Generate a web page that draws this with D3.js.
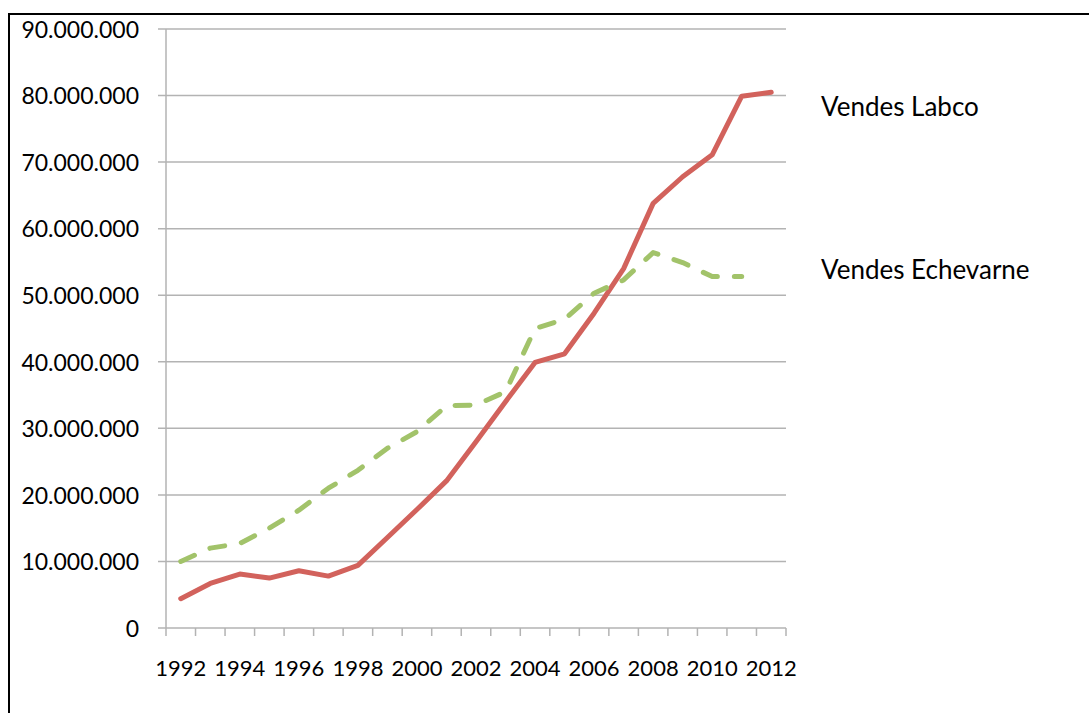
<!DOCTYPE html>
<html>
<head>
<meta charset="utf-8">
<script src="https://cdn.jsdelivr.net/npm/d3@7"></script>
<style>
  body { margin: 0; background: #fff; }
  svg text { font-family: Lato, "Open Sans", sans-serif; fill: #000; }
</style>
</head>
<body>
<svg id="chart" width="1089" height="713"></svg>
<script>
// Años (categorías del eje X)
const anys = d3.range(1992, 2013);
// Etiquetas del eje X (una de cada dos)
const etiquetasX = [1992, 1994, 1996, 1998, 2000, 2002, 2004, 2006, 2008, 2010, 2012];
// Etiquetas del eje Y
const ticksY = [0, 10e6, 20e6, 30e6, 40e6, 50e6, 60e6, 70e6, 80e6, 90e6];

// Vendes Labco (1992-2012)
const vendesLabco = [4.4e6, 6.7e6, 8.1e6, 7.5e6, 8.6e6, 7.8e6, 9.4e6, 13.6e6, 17.8e6, 22.1e6,
  28.0e6, 34.0e6, 39.9e6, 41.2e6, 47.3e6, 54.0e6, 63.8e6, 67.8e6, 71.1e6, 79.9e6, 80.5e6];
// Vendes Echevarne (1992-2011)
const vendesEchevarne = [10.0e6, 12.0e6, 12.7e6, 15.0e6, 17.7e6, 21.0e6, 23.7e6, 27.0e6, 29.5e6, 33.4e6,
  33.5e6, 35.5e6, 45.0e6, 46.4e6, 50.3e6, 52.3e6, 56.4e6, 54.9e6, 52.8e6, 52.8e6];

const series = [
  { nom: 'Vendes Labco', valors: vendesLabco, color: '#d2625c', dash: null, ly: 109 },
  { nom: 'Vendes Echevarne', valors: vendesEchevarne, color: '#a2c36a', dash: '15,17', ly: 272 }
];

const svg = d3.select('#chart');

// Marco negro de la captura
svg.append('path')
  .attr('d', 'M9,713 V14 H1089')
  .attr('fill', 'none')
  .attr('stroke', '#000')
  .attr('stroke-width', 2);

const x = d3.scaleBand().domain(anys).range([166, 786]).padding(0);
const y = d3.scaleLinear().domain([0, 90e6]).range([628, 29]);

const fmt = d3.formatLocale({ decimal: ',', thousands: '.', grouping: [3], currency: ['', '€'] }).format(',d');

// Líneas de cuadrícula horizontales
svg.append('g')
  .selectAll('line')
  .data(ticksY)
  .join('line')
  .attr('x1', 158)
  .attr('x2', 786)
  .attr('y1', d => y(d))
  .attr('y2', d => y(d))
  .attr('stroke', '#b3b3b3')
  .attr('stroke-width', 1.5);

// Eje Y
svg.append('line')
  .attr('x1', 166).attr('x2', 166)
  .attr('y1', y(90e6)).attr('y2', y(0))
  .attr('stroke', '#b3b3b3')
  .attr('stroke-width', 1.5);

svg.append('g')
  .selectAll('text')
  .data(ticksY)
  .join('text')
  .attr('x', 139)
  .attr('y', d => y(d) + 3)
  .attr('text-anchor', 'end')
  .attr('dominant-baseline', 'middle')
  .attr('font-size', 23)
  .text(d => fmt(d));

// Marcas del eje X (entre categorías)
svg.append('g')
  .selectAll('line')
  .data(anys.concat([null]))
  .join('line')
  .attr('x1', d => d === null ? x.range()[1] : x(d))
  .attr('x2', d => d === null ? x.range()[1] : x(d))
  .attr('y1', y(0))
  .attr('y2', y(0) + 8)
  .attr('stroke', '#b3b3b3')
  .attr('stroke-width', 1.5);

svg.append('g')
  .selectAll('text')
  .data(etiquetasX)
  .join('text')
  .attr('x', d => x(d) + x.bandwidth() / 2)
  .attr('y', 670)
  .attr('text-anchor', 'middle')
  .attr('dominant-baseline', 'middle')
  .attr('font-size', 22)
  .text(d => d);

// Líneas de las series
const linia = d3.line()
  .x((d, i) => x(anys[i]) + x.bandwidth() / 2)
  .y(d => y(d));

series.forEach(s => {
  svg.append('path')
    .datum(s.valors)
    .attr('d', linia)
    .attr('fill', 'none')
    .attr('stroke', s.color)
    .attr('stroke-width', 5)
    .attr('stroke-linejoin', 'round')
    .attr('stroke-linecap', 'round')
    .attr('stroke-dasharray', s.dash);

  svg.append('text')
    .attr('x', 821)
    .attr('y', s.ly)
    .attr('dominant-baseline', 'middle')
    .attr('font-size', 26)
    .text(s.nom);
});
</script>
</body>
</html>
